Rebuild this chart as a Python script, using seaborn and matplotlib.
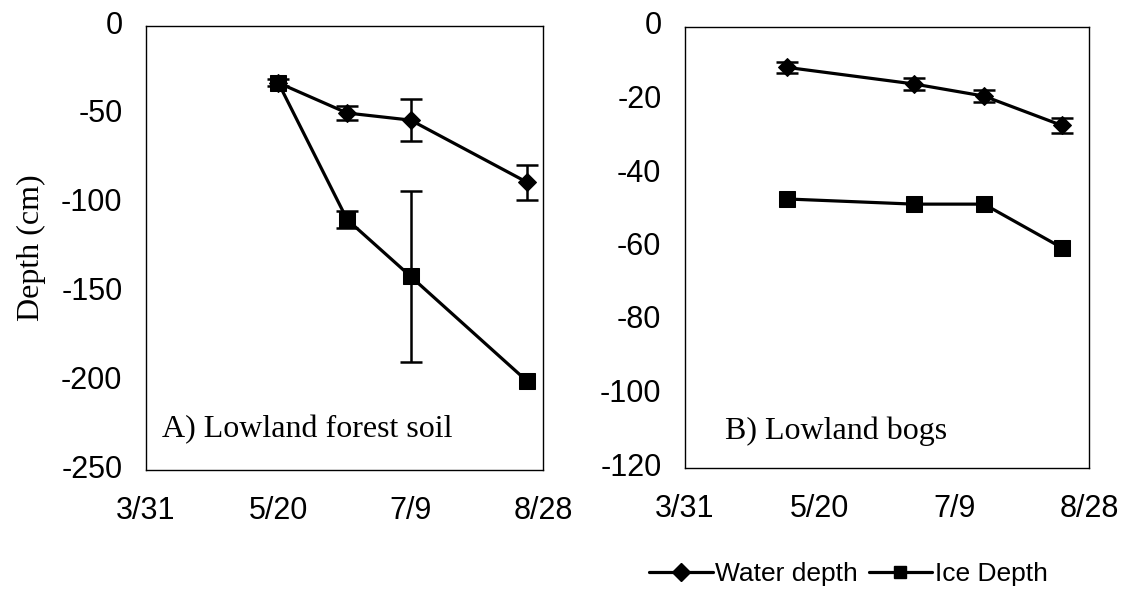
import numpy as np
import pandas as pd
import matplotlib
matplotlib.use("Agg")
import matplotlib.pyplot as plt
import matplotlib.transforms as mtransforms
import seaborn as sns
from matplotlib.lines import Line2D

# ---------------- data ----------------
series_names = ["Water depth", "Ice Depth"]

# Panel A: Lowland forest soil
a_dates = ["5/20", "6/15", "7/9", "8/22"]
a_water = [-32, -49, -53, -88]
a_water_err = [2, 4, 12, 10]
a_ice = [-32, -109, -141, -200]
a_ice_err = [0, 5, 48, 0]

# Panel B: Lowland bogs
b_dates = ["5/8", "6/24", "7/20", "8/18"]
b_water = [-11, -15.5, -18.8, -26.8]
b_water_err = [1.5, 1.6, 1.6, 2.0]
b_ice = [-46.8, -48.2, -48.2, -60.1]
b_ice_err = [0, 0, 0, 0]

tick_labels = ["3/31", "5/20", "7/9", "8/28"]
a_yticks = [0, -50, -100, -150, -200, -250]
b_yticks = [0, -20, -40, -60, -80, -100, -120]

panel_titles = ["A) Lowland forest soil", "B) Lowland bogs"]
y_label = "Depth (cm)"


def doy(s):
    return pd.to_datetime("2001/" + s, format="%Y/%m/%d").dayofyear


def long_df(dates, water, ice):
    d = [doy(s) for s in dates]
    return pd.DataFrame({
        "day": d + d,
        "depth": list(water) + list(ice),
        "series": [series_names[0]] * len(d) + [series_names[1]] * len(d),
    })


# ---------------- style ----------------
sns.set_theme(style="white")
plt.rcParams["font.family"] = ["Liberation Sans", "DejaVu Sans"]
serif = ["Liberation Serif", "DejaVu Serif"]

fig = plt.figure(figsize=(11.27, 5.98), dpi=100)
axA = fig.add_axes([146 / 1127, 1 - 470 / 598, (543 - 146) / 1127, (470 - 26) / 598])
axB = fig.add_axes([685 / 1127, 1 - 468 / 598, (1089 - 685) / 1127, (468 - 27) / 598])

markers = {series_names[0]: "D", series_names[1]: "s"}
msize = {series_names[0]: 9.5, series_names[1]: 11}

xticks = [doy(t) for t in tick_labels]

panels = [
    (axA, a_dates, a_water, a_water_err, a_ice, a_ice_err, a_yticks),
    (axB, b_dates, b_water, b_water_err, b_ice, b_ice_err, b_yticks),
]


def draw_err(ax, d, vals, errs):
    d = np.asarray(d); vals = np.asarray(vals, float); errs = np.asarray(errs, float)
    m = errs > 0
    if m.any():
        ax.errorbar(d[m], vals[m], yerr=errs[m], fmt="none", ecolor="black",
                    elinewidth=1.8, capsize=8, capthick=1.8, zorder=2)


yoff = mtransforms.ScaledTranslation(0, 4 / 100, fig.dpi_scale_trans)

for i, (ax, dates, water, werr, ice, ierr, yt) in enumerate(panels):
    df = long_df(dates, water, ice)
    d = [doy(s) for s in dates]
    draw_err(ax, d, water, werr)
    draw_err(ax, d, ice, ierr)
    for name in series_names:
        sub = df[df["series"] == name]
        sns.lineplot(data=sub, x="day", y="depth", ax=ax, color="black",
                     lw=2.3, marker=markers[name], markersize=msize[name],
                     markeredgecolor="black", markerfacecolor="black",
                     sort=False, legend=False, zorder=3)
    ax.set_xlim(xticks[0], xticks[-1])
    ax.set_ylim(yt[-1], yt[0])
    ax.set_xticks(xticks)
    ax.set_xticklabels(tick_labels)
    ax.set_yticks(yt)
    ax.set_yticklabels([str(v) for v in yt])
    ax.tick_params(axis="both", length=0, labelsize=22, colors="black")
    ax.tick_params(axis="x", pad=19)
    ax.tick_params(axis="y", pad=17)
    for lab in ax.get_yticklabels():
        lab.set_transform(lab.get_transform() + yoff)
    ax.set_xlabel("")
    ax.set_ylabel("")
    for sp in ax.spines.values():
        sp.set_visible(True)
        sp.set_color("black")
        sp.set_linewidth(1.0)

axA.set_ylabel(y_label, family=serif, fontsize=23, color="black", labelpad=11)

axA.text(0.04, 0.092, panel_titles[0], transform=axA.transAxes, family=serif,
         fontsize=23, ha="left", va="center", color="black")
axB.text(0.10, 0.083, panel_titles[1], transform=axB.transAxes, family=serif,
         fontsize=23, ha="left", va="center", color="black")

handles = [
    Line2D([], [], color="black", lw=2.3, marker="D", markersize=9.5),
    Line2D([], [], color="black", lw=2.3, marker="s", markersize=9),
]
leg = fig.legend(handles, series_names, loc="center",
                 bbox_to_anchor=((645 + 1052) / 2 / 1127, 1 - 574 / 598),
                 ncol=2, frameon=False, fontsize=19, handlelength=2.4,
                 handletextpad=0.1, columnspacing=0.4, borderpad=0.1)
for t in leg.get_texts():
    t.set_color("black")

fig.savefig("out.png", dpi=100, facecolor="white")
